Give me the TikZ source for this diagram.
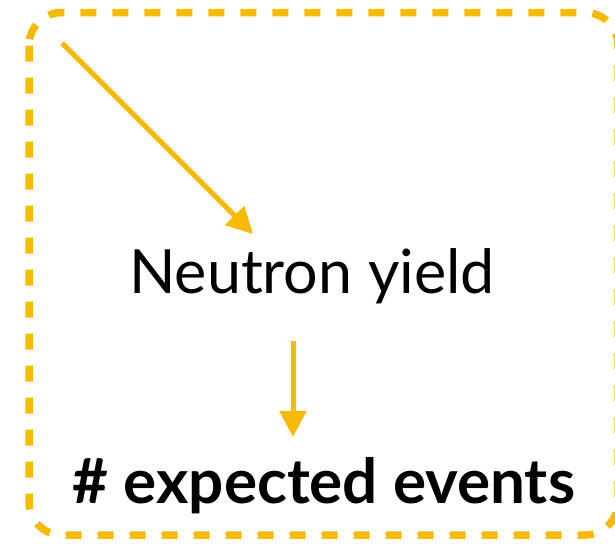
\documentclass[tikz,border=0pt]{standalone}
\usepackage{fontspec}
\setmainfont{Lato}
\usetikzlibrary{arrows.meta}
\definecolor{gold}{RGB}{247,186,0}
\tikzset{
  frame/.style={draw=gold, line width=7.5pt, dash pattern=on 16pt off 16pt, rounded corners=33pt},
  arr/.style={draw=gold, line width=5pt, -{Triangle[length=26pt,width=26pt]}},
  lbl/.style={inner sep=0pt, anchor=base}
}
\begin{document}
\begin{tikzpicture}[x=1pt,y=-1pt]
\useasboundingbox (0,0) rectangle (615,544);
\draw[frame] (29,12.5) rectangle (618,535);
\node[lbl, font=\fontsize{61}{64}\selectfont] (ny) at (312,293) {Neutron yield};
\node[lbl, font=\bfseries\fontsize{62}{66}\selectfont] (ev) at (324,503) {\# expected events};
\coordinate (a1) at (62,43);
\coordinate (a2) at (253,234);
\coordinate (b1) at (293,341);
\coordinate (b2) at (293,437);
\draw[arr] (a1) -- (a2);
\draw[arr] (b1) -- (b2);
\end{tikzpicture}
\end{document}
